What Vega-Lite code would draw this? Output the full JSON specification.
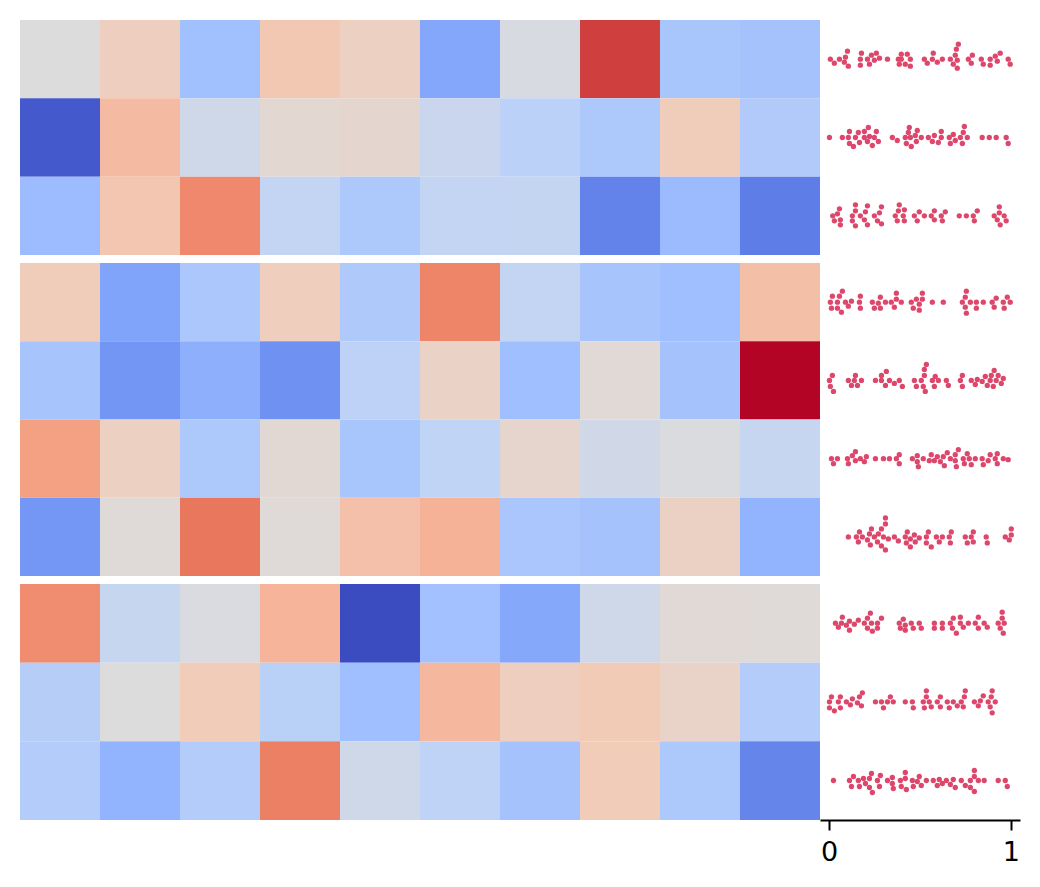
{"$schema":"https://vega.github.io/schema/vega-lite/v6.json","padding":{"left":20,"top":20,"right":20,"bottom":20},"background":"white","config":{"view":{"stroke":null}},
"datasets":{"cells":[
{"row":0,"col":0,"v":0.5},{"row":0,"col":1,"v":0.58},{"row":0,"col":2,"v":0.31},{"row":0,"col":3,"v":0.61},{"row":0,"col":4,"v":0.57},{"row":0,"col":5,"v":0.225},{"row":0,"col":6,"v":0.48},{"row":0,"col":7,"v":0.93},{"row":0,"col":8,"v":0.33},{"row":0,"col":9,"v":0.32},
{"row":1,"col":0,"v":0.03},{"row":1,"col":1,"v":0.65},{"row":1,"col":2,"v":0.45},{"row":1,"col":3,"v":0.53},{"row":1,"col":4,"v":0.535},{"row":1,"col":5,"v":0.43},{"row":1,"col":6,"v":0.385},{"row":1,"col":7,"v":0.345},{"row":1,"col":8,"v":0.59},{"row":1,"col":9,"v":0.355},
{"row":2,"col":0,"v":0.295},{"row":2,"col":1,"v":0.615},{"row":2,"col":2,"v":0.79},{"row":2,"col":3,"v":0.41},{"row":2,"col":4,"v":0.345},{"row":2,"col":5,"v":0.41},{"row":2,"col":6,"v":0.415},{"row":2,"col":7,"v":0.13},{"row":2,"col":8,"v":0.29},{"row":2,"col":9,"v":0.115},
{"row":3,"col":0,"v":0.59},{"row":3,"col":1,"v":0.215},{"row":3,"col":2,"v":0.34},{"row":3,"col":3,"v":0.585},{"row":3,"col":4,"v":0.35},{"row":3,"col":5,"v":0.8},{"row":3,"col":6,"v":0.41},{"row":3,"col":7,"v":0.325},{"row":3,"col":8,"v":0.305},{"row":3,"col":9,"v":0.64},
{"row":4,"col":0,"v":0.325},{"row":4,"col":1,"v":0.175},{"row":4,"col":2,"v":0.255},{"row":4,"col":3,"v":0.165},{"row":4,"col":4,"v":0.39},{"row":4,"col":5,"v":0.56},{"row":4,"col":6,"v":0.305},{"row":4,"col":7,"v":0.52},{"row":4,"col":8,"v":0.32},{"row":4,"col":9,"v":1},
{"row":5,"col":0,"v":0.73},{"row":5,"col":1,"v":0.57},{"row":5,"col":2,"v":0.345},{"row":5,"col":3,"v":0.525},{"row":5,"col":4,"v":0.33},{"row":5,"col":5,"v":0.4},{"row":5,"col":6,"v":0.54},{"row":5,"col":7,"v":0.455},{"row":5,"col":8,"v":0.49},{"row":5,"col":9,"v":0.42},
{"row":6,"col":0,"v":0.18},{"row":6,"col":1,"v":0.51},{"row":6,"col":2,"v":0.83},{"row":6,"col":3,"v":0.51},{"row":6,"col":4,"v":0.635},{"row":6,"col":5,"v":0.68},{"row":6,"col":6,"v":0.335},{"row":6,"col":7,"v":0.32},{"row":6,"col":8,"v":0.565},{"row":6,"col":9,"v":0.265},
{"row":7,"col":0,"v":0.78},{"row":7,"col":1,"v":0.425},{"row":7,"col":2,"v":0.485},{"row":7,"col":3,"v":0.67},{"row":7,"col":4,"v":0},{"row":7,"col":5,"v":0.315},{"row":7,"col":6,"v":0.23},{"row":7,"col":7,"v":0.45},{"row":7,"col":8,"v":0.515},{"row":7,"col":9,"v":0.51},
{"row":8,"col":0,"v":0.37},{"row":8,"col":1,"v":0.495},{"row":8,"col":2,"v":0.595},{"row":8,"col":3,"v":0.38},{"row":8,"col":4,"v":0.305},{"row":8,"col":5,"v":0.66},{"row":8,"col":6,"v":0.58},{"row":8,"col":7,"v":0.6},{"row":8,"col":8,"v":0.555},{"row":8,"col":9,"v":0.365},
{"row":9,"col":0,"v":0.365},{"row":9,"col":1,"v":0.265},{"row":9,"col":2,"v":0.365},{"row":9,"col":3,"v":0.81},{"row":9,"col":4,"v":0.45},{"row":9,"col":5,"v":0.395},{"row":9,"col":6,"v":0.32},{"row":9,"col":7,"v":0.595},{"row":9,"col":8,"v":0.345},{"row":9,"col":9,"v":0.135}
],
"swarm":[
{"row":0,"x":0.007,"o":0},{"row":0,"x":0.029,"o":4},{"row":0,"x":0.057,"o":0},{"row":0,"x":0.084,"o":3},{"row":0,"x":0.09,"o":-2},{"row":0,"x":0.101,"o":-8},{"row":0,"x":0.106,"o":7},{"row":0,"x":0.172,"o":0},{"row":0,"x":0.178,"o":-6},{"row":0,"x":0.172,"o":6},{"row":0,"x":0.211,"o":0},{"row":0,"x":0.222,"o":5},{"row":0,"x":0.233,"o":-4},{"row":0,"x":0.249,"o":1},{"row":0,"x":0.26,"o":-6},{"row":0,"x":0.277,"o":-1},{"row":0,"x":0.321,"o":0},{"row":0,"x":0.381,"o":0},{"row":0,"x":0.386,"o":5},{"row":0,"x":0.397,"o":-5},{"row":0,"x":0.397,"o":0},{"row":0,"x":0.419,"o":5},{"row":0,"x":0.43,"o":-5},{"row":0,"x":0.447,"o":0},{"row":0,"x":0.447,"o":7},{"row":0,"x":0.524,"o":0},{"row":0,"x":0.54,"o":4},{"row":0,"x":0.568,"o":0},{"row":0,"x":0.573,"o":-6},{"row":0,"x":0.595,"o":3},{"row":0,"x":0.623,"o":0},{"row":0,"x":0.667,"o":0},{"row":0,"x":0.683,"o":5},{"row":0,"x":0.694,"o":-4},{"row":0,"x":0.7,"o":-10},{"row":0,"x":0.705,"o":1},{"row":0,"x":0.711,"o":-15},{"row":0,"x":0.705,"o":9},{"row":0,"x":0.766,"o":0},{"row":0,"x":0.782,"o":4},{"row":0,"x":0.788,"o":-4},{"row":0,"x":0.837,"o":0},{"row":0,"x":0.848,"o":5},{"row":0,"x":0.886,"o":0},{"row":0,"x":0.886,"o":6},{"row":0,"x":0.914,"o":-3},{"row":0,"x":0.925,"o":2},{"row":0,"x":0.941,"o":-6},{"row":0,"x":0.985,"o":0},{"row":0,"x":0.996,"o":5},
{"row":1,"x":0.002,"o":0},{"row":1,"x":0.073,"o":0},{"row":1,"x":0.106,"o":0},{"row":1,"x":0.112,"o":-6},{"row":1,"x":0.112,"o":6},{"row":1,"x":0.134,"o":9},{"row":1,"x":0.145,"o":0},{"row":1,"x":0.161,"o":-5},{"row":1,"x":0.167,"o":5},{"row":1,"x":0.194,"o":-6},{"row":1,"x":0.194,"o":0},{"row":1,"x":0.211,"o":4},{"row":1,"x":0.216,"o":-10},{"row":1,"x":0.222,"o":-1},{"row":1,"x":0.238,"o":8},{"row":1,"x":0.249,"o":0},{"row":1,"x":0.26,"o":-6},{"row":1,"x":0.271,"o":4},{"row":1,"x":0.348,"o":0},{"row":1,"x":0.375,"o":3},{"row":1,"x":0.419,"o":0},{"row":1,"x":0.425,"o":6},{"row":1,"x":0.436,"o":-5},{"row":1,"x":0.441,"o":-10},{"row":1,"x":0.447,"o":0},{"row":1,"x":0.452,"o":9},{"row":1,"x":0.474,"o":-2},{"row":1,"x":0.48,"o":4},{"row":1,"x":0.485,"o":-7},{"row":1,"x":0.507,"o":0},{"row":1,"x":0.546,"o":0},{"row":1,"x":0.568,"o":4},{"row":1,"x":0.579,"o":-2},{"row":1,"x":0.601,"o":5},{"row":1,"x":0.617,"o":-6},{"row":1,"x":0.617,"o":0},{"row":1,"x":0.661,"o":0},{"row":1,"x":0.667,"o":6},{"row":1,"x":0.683,"o":-3},{"row":1,"x":0.694,"o":3},{"row":1,"x":0.722,"o":0},{"row":1,"x":0.733,"o":6},{"row":1,"x":0.738,"o":-5},{"row":1,"x":0.744,"o":-11},{"row":1,"x":0.76,"o":0},{"row":1,"x":0.842,"o":0},{"row":1,"x":0.881,"o":0},{"row":1,"x":0.919,"o":0},{"row":1,"x":0.974,"o":0},{"row":1,"x":0.985,"o":6},
{"row":2,"x":0.02,"o":0},{"row":2,"x":0.029,"o":5},{"row":2,"x":0.046,"o":-2},{"row":2,"x":0.057,"o":-7},{"row":2,"x":0.062,"o":4},{"row":2,"x":0.062,"o":9},{"row":2,"x":0.128,"o":0},{"row":2,"x":0.128,"o":5},{"row":2,"x":0.145,"o":-5},{"row":2,"x":0.145,"o":-11},{"row":2,"x":0.145,"o":10},{"row":2,"x":0.172,"o":0},{"row":2,"x":0.194,"o":4},{"row":2,"x":0.2,"o":-4},{"row":2,"x":0.211,"o":-10},{"row":2,"x":0.211,"o":9},{"row":2,"x":0.249,"o":0},{"row":2,"x":0.266,"o":5},{"row":2,"x":0.277,"o":-3},{"row":2,"x":0.288,"o":-9},{"row":2,"x":0.288,"o":8},{"row":2,"x":0.364,"o":0},{"row":2,"x":0.375,"o":5},{"row":2,"x":0.381,"o":-5},{"row":2,"x":0.386,"o":-11},{"row":2,"x":0.408,"o":0},{"row":2,"x":0.414,"o":-6},{"row":2,"x":0.414,"o":5},{"row":2,"x":0.469,"o":0},{"row":2,"x":0.485,"o":5},{"row":2,"x":0.496,"o":-4},{"row":2,"x":0.524,"o":0},{"row":2,"x":0.562,"o":0},{"row":2,"x":0.579,"o":4},{"row":2,"x":0.579,"o":-5},{"row":2,"x":0.617,"o":0},{"row":2,"x":0.623,"o":5},{"row":2,"x":0.639,"o":-4},{"row":2,"x":0.716,"o":0},{"row":2,"x":0.755,"o":0},{"row":2,"x":0.793,"o":0},{"row":2,"x":0.799,"o":5},{"row":2,"x":0.815,"o":-5},{"row":2,"x":0.908,"o":0},{"row":2,"x":0.925,"o":4},{"row":2,"x":0.936,"o":-3},{"row":2,"x":0.936,"o":-9},{"row":2,"x":0.941,"o":9},{"row":2,"x":0.963,"o":0},{"row":2,"x":0.974,"o":5},
{"row":3,"x":0.007,"o":0},{"row":3,"x":0.013,"o":6},{"row":3,"x":0.018,"o":-6},{"row":3,"x":0.046,"o":0},{"row":3,"x":0.046,"o":6},{"row":3,"x":0.057,"o":-6},{"row":3,"x":0.068,"o":10},{"row":3,"x":0.073,"o":-11},{"row":3,"x":0.09,"o":0},{"row":3,"x":0.106,"o":4},{"row":3,"x":0.123,"o":-1},{"row":3,"x":0.167,"o":0},{"row":3,"x":0.172,"o":-6},{"row":3,"x":0.172,"o":6},{"row":3,"x":0.238,"o":0},{"row":3,"x":0.249,"o":6},{"row":3,"x":0.271,"o":1},{"row":3,"x":0.282,"o":-5},{"row":3,"x":0.282,"o":6},{"row":3,"x":0.31,"o":0},{"row":3,"x":0.342,"o":0},{"row":3,"x":0.359,"o":5},{"row":3,"x":0.37,"o":-3},{"row":3,"x":0.37,"o":-9},{"row":3,"x":0.397,"o":0},{"row":3,"x":0.452,"o":0},{"row":3,"x":0.463,"o":6},{"row":3,"x":0.48,"o":-3},{"row":3,"x":0.496,"o":2},{"row":3,"x":0.496,"o":8},{"row":3,"x":0.513,"o":-9},{"row":3,"x":0.513,"o":-3},{"row":3,"x":0.568,"o":0},{"row":3,"x":0.628,"o":0},{"row":3,"x":0.733,"o":0},{"row":3,"x":0.749,"o":-5},{"row":3,"x":0.749,"o":5},{"row":3,"x":0.755,"o":-11},{"row":3,"x":0.755,"o":11},{"row":3,"x":0.777,"o":0},{"row":3,"x":0.81,"o":0},{"row":3,"x":0.81,"o":6},{"row":3,"x":0.848,"o":0},{"row":3,"x":0.897,"o":0},{"row":3,"x":0.908,"o":5},{"row":3,"x":0.919,"o":-4},{"row":3,"x":0.958,"o":0},{"row":3,"x":0.963,"o":6},{"row":3,"x":0.98,"o":-5},{"row":3,"x":0.996,"o":0},
{"row":4,"x":0.002,"o":0},{"row":4,"x":0.007,"o":6},{"row":4,"x":0.018,"o":-5},{"row":4,"x":0.024,"o":11},{"row":4,"x":0.106,"o":0},{"row":4,"x":0.123,"o":5},{"row":4,"x":0.139,"o":0},{"row":4,"x":0.145,"o":-5},{"row":4,"x":0.156,"o":5},{"row":4,"x":0.178,"o":0},{"row":4,"x":0.255,"o":0},{"row":4,"x":0.288,"o":-5},{"row":4,"x":0.288,"o":0},{"row":4,"x":0.31,"o":5},{"row":4,"x":0.315,"o":-9},{"row":4,"x":0.332,"o":0},{"row":4,"x":0.359,"o":3},{"row":4,"x":0.386,"o":0},{"row":4,"x":0.403,"o":6},{"row":4,"x":0.469,"o":0},{"row":4,"x":0.48,"o":6},{"row":4,"x":0.507,"o":0},{"row":4,"x":0.518,"o":6},{"row":4,"x":0.524,"o":-5},{"row":4,"x":0.524,"o":-11},{"row":4,"x":0.529,"o":11},{"row":4,"x":0.535,"o":-16},{"row":4,"x":0.568,"o":0},{"row":4,"x":0.579,"o":6},{"row":4,"x":0.584,"o":-4},{"row":4,"x":0.601,"o":0},{"row":4,"x":0.645,"o":0},{"row":4,"x":0.656,"o":5},{"row":4,"x":0.722,"o":0},{"row":4,"x":0.733,"o":-5},{"row":4,"x":0.733,"o":6},{"row":4,"x":0.782,"o":0},{"row":4,"x":0.804,"o":4},{"row":4,"x":0.815,"o":-1},{"row":4,"x":0.842,"o":1},{"row":4,"x":0.859,"o":-4},{"row":4,"x":0.87,"o":5},{"row":4,"x":0.886,"o":0},{"row":4,"x":0.892,"o":-5},{"row":4,"x":0.903,"o":6},{"row":4,"x":0.908,"o":-10},{"row":4,"x":0.919,"o":0},{"row":4,"x":0.93,"o":-5},{"row":4,"x":0.947,"o":3},{"row":4,"x":0.958,"o":-2},
{"row":5,"x":0.013,"o":0},{"row":5,"x":0.024,"o":5},{"row":5,"x":0.046,"o":0},{"row":5,"x":0.101,"o":0},{"row":5,"x":0.106,"o":5},{"row":5,"x":0.128,"o":-3},{"row":5,"x":0.145,"o":-7},{"row":5,"x":0.145,"o":2},{"row":5,"x":0.172,"o":0},{"row":5,"x":0.194,"o":3},{"row":5,"x":0.205,"o":-2},{"row":5,"x":0.255,"o":0},{"row":5,"x":0.299,"o":0},{"row":5,"x":0.332,"o":0},{"row":5,"x":0.37,"o":0},{"row":5,"x":0.386,"o":-4},{"row":5,"x":0.386,"o":5},{"row":5,"x":0.458,"o":0},{"row":5,"x":0.485,"o":-3},{"row":5,"x":0.485,"o":3},{"row":5,"x":0.491,"o":8},{"row":5,"x":0.518,"o":0},{"row":5,"x":0.551,"o":2},{"row":5,"x":0.562,"o":-4},{"row":5,"x":0.579,"o":2},{"row":5,"x":0.595,"o":-2},{"row":5,"x":0.612,"o":3},{"row":5,"x":0.628,"o":-2},{"row":5,"x":0.634,"o":7},{"row":5,"x":0.65,"o":-6},{"row":5,"x":0.667,"o":0},{"row":5,"x":0.694,"o":-4},{"row":5,"x":0.694,"o":2},{"row":5,"x":0.7,"o":8},{"row":5,"x":0.711,"o":-9},{"row":5,"x":0.738,"o":0},{"row":5,"x":0.744,"o":5},{"row":5,"x":0.76,"o":-5},{"row":5,"x":0.771,"o":0},{"row":5,"x":0.782,"o":6},{"row":5,"x":0.804,"o":0},{"row":5,"x":0.842,"o":0},{"row":5,"x":0.848,"o":6},{"row":5,"x":0.875,"o":2},{"row":5,"x":0.886,"o":-4},{"row":5,"x":0.914,"o":0},{"row":5,"x":0.925,"o":-5},{"row":5,"x":0.925,"o":5},{"row":5,"x":0.958,"o":0},{"row":5,"x":0.985,"o":1},
{"row":6,"x":0.106,"o":0},{"row":6,"x":0.15,"o":0},{"row":6,"x":0.161,"o":5},{"row":6,"x":0.167,"o":-5},{"row":6,"x":0.183,"o":0},{"row":6,"x":0.211,"o":3},{"row":6,"x":0.222,"o":-3},{"row":6,"x":0.227,"o":8},{"row":6,"x":0.233,"o":-8},{"row":6,"x":0.249,"o":0},{"row":6,"x":0.266,"o":5},{"row":6,"x":0.271,"o":-3},{"row":6,"x":0.288,"o":9},{"row":6,"x":0.288,"o":-8},{"row":6,"x":0.299,"o":0},{"row":6,"x":0.31,"o":13},{"row":6,"x":0.31,"o":-13},{"row":6,"x":0.31,"o":-19},{"row":6,"x":0.326,"o":2},{"row":6,"x":0.359,"o":0},{"row":6,"x":0.381,"o":4},{"row":6,"x":0.419,"o":0},{"row":6,"x":0.425,"o":6},{"row":6,"x":0.43,"o":-5},{"row":6,"x":0.447,"o":2},{"row":6,"x":0.447,"o":10},{"row":6,"x":0.469,"o":-2},{"row":6,"x":0.474,"o":5},{"row":6,"x":0.496,"o":1},{"row":6,"x":0.535,"o":0},{"row":6,"x":0.535,"o":6},{"row":6,"x":0.546,"o":-5},{"row":6,"x":0.562,"o":10},{"row":6,"x":0.59,"o":0},{"row":6,"x":0.606,"o":5},{"row":6,"x":0.623,"o":0},{"row":6,"x":0.661,"o":0},{"row":6,"x":0.667,"o":6},{"row":6,"x":0.672,"o":-5},{"row":6,"x":0.749,"o":0},{"row":6,"x":0.76,"o":6},{"row":6,"x":0.782,"o":0},{"row":6,"x":0.793,"o":-5},{"row":6,"x":0.793,"o":5},{"row":6,"x":0.864,"o":0},{"row":6,"x":0.87,"o":6},{"row":6,"x":0.969,"o":0},{"row":6,"x":0.991,"o":3},{"row":6,"x":1.002,"o":-2},{"row":6,"x":1.002,"o":-8},
{"row":7,"x":0.035,"o":0},{"row":7,"x":0.051,"o":4},{"row":7,"x":0.068,"o":0},{"row":7,"x":0.073,"o":-6},{"row":7,"x":0.095,"o":2},{"row":7,"x":0.112,"o":-2},{"row":7,"x":0.112,"o":7},{"row":7,"x":0.139,"o":1},{"row":7,"x":0.161,"o":-3},{"row":7,"x":0.194,"o":0},{"row":7,"x":0.211,"o":-5},{"row":7,"x":0.211,"o":5},{"row":7,"x":0.227,"o":-10},{"row":7,"x":0.233,"o":0},{"row":7,"x":0.238,"o":8},{"row":7,"x":0.266,"o":0},{"row":7,"x":0.266,"o":5},{"row":7,"x":0.288,"o":-5},{"row":7,"x":0.386,"o":0},{"row":7,"x":0.392,"o":5},{"row":7,"x":0.408,"o":-4},{"row":7,"x":0.419,"o":2},{"row":7,"x":0.419,"o":7},{"row":7,"x":0.452,"o":0},{"row":7,"x":0.463,"o":5},{"row":7,"x":0.496,"o":0},{"row":7,"x":0.507,"o":5},{"row":7,"x":0.579,"o":0},{"row":7,"x":0.579,"o":5},{"row":7,"x":0.623,"o":0},{"row":7,"x":0.623,"o":5},{"row":7,"x":0.667,"o":0},{"row":7,"x":0.678,"o":5},{"row":7,"x":0.683,"o":-5},{"row":7,"x":0.7,"o":10},{"row":7,"x":0.722,"o":-6},{"row":7,"x":0.722,"o":0},{"row":7,"x":0.738,"o":4},{"row":7,"x":0.766,"o":0},{"row":7,"x":0.804,"o":0},{"row":7,"x":0.821,"o":-6},{"row":7,"x":0.821,"o":5},{"row":7,"x":0.853,"o":0},{"row":7,"x":0.87,"o":4},{"row":7,"x":0.93,"o":0},{"row":7,"x":0.941,"o":5},{"row":7,"x":0.952,"o":-11},{"row":7,"x":0.952,"o":-5},{"row":7,"x":0.958,"o":10},{"row":7,"x":0.963,"o":0},
{"row":8,"x":0.002,"o":0},{"row":8,"x":0.002,"o":6},{"row":8,"x":0.013,"o":-5},{"row":8,"x":0.029,"o":9},{"row":8,"x":0.051,"o":0},{"row":8,"x":0.062,"o":-5},{"row":8,"x":0.062,"o":6},{"row":8,"x":0.095,"o":0},{"row":8,"x":0.117,"o":3},{"row":8,"x":0.128,"o":-3},{"row":8,"x":0.156,"o":1},{"row":8,"x":0.167,"o":-5},{"row":8,"x":0.178,"o":4},{"row":8,"x":0.183,"o":-9},{"row":8,"x":0.255,"o":0},{"row":8,"x":0.288,"o":0},{"row":8,"x":0.299,"o":6},{"row":8,"x":0.321,"o":0},{"row":8,"x":0.337,"o":-5},{"row":8,"x":0.353,"o":0},{"row":8,"x":0.419,"o":0},{"row":8,"x":0.458,"o":0},{"row":8,"x":0.463,"o":6},{"row":8,"x":0.518,"o":0},{"row":8,"x":0.524,"o":6},{"row":8,"x":0.535,"o":-5},{"row":8,"x":0.535,"o":-11},{"row":8,"x":0.551,"o":0},{"row":8,"x":0.562,"o":5},{"row":8,"x":0.595,"o":0},{"row":8,"x":0.612,"o":-5},{"row":8,"x":0.612,"o":5},{"row":8,"x":0.65,"o":0},{"row":8,"x":0.661,"o":6},{"row":8,"x":0.683,"o":0},{"row":8,"x":0.705,"o":4},{"row":8,"x":0.727,"o":0},{"row":8,"x":0.738,"o":5},{"row":8,"x":0.744,"o":-5},{"row":8,"x":0.749,"o":-11},{"row":8,"x":0.799,"o":0},{"row":8,"x":0.821,"o":4},{"row":8,"x":0.832,"o":-1},{"row":8,"x":0.848,"o":-6},{"row":8,"x":0.875,"o":0},{"row":8,"x":0.886,"o":5},{"row":8,"x":0.892,"o":-5},{"row":8,"x":0.897,"o":-11},{"row":8,"x":0.897,"o":11},{"row":8,"x":0.914,"o":0},
{"row":9,"x":0.024,"o":0},{"row":9,"x":0.112,"o":0},{"row":9,"x":0.123,"o":6},{"row":9,"x":0.134,"o":-4},{"row":9,"x":0.161,"o":0},{"row":9,"x":0.167,"o":6},{"row":9,"x":0.189,"o":-2},{"row":9,"x":0.2,"o":3},{"row":9,"x":0.222,"o":-2},{"row":9,"x":0.222,"o":7},{"row":9,"x":0.233,"o":-7},{"row":9,"x":0.238,"o":12},{"row":9,"x":0.266,"o":0},{"row":9,"x":0.277,"o":6},{"row":9,"x":0.282,"o":-5},{"row":9,"x":0.321,"o":0},{"row":9,"x":0.348,"o":-3},{"row":9,"x":0.348,"o":3},{"row":9,"x":0.353,"o":8},{"row":9,"x":0.392,"o":0},{"row":9,"x":0.397,"o":6},{"row":9,"x":0.419,"o":-2},{"row":9,"x":0.419,"o":-8},{"row":9,"x":0.425,"o":9},{"row":9,"x":0.458,"o":0},{"row":9,"x":0.463,"o":6},{"row":9,"x":0.485,"o":1},{"row":9,"x":0.496,"o":-4},{"row":9,"x":0.507,"o":5},{"row":9,"x":0.535,"o":0},{"row":9,"x":0.573,"o":0},{"row":9,"x":0.595,"o":5},{"row":9,"x":0.606,"o":-1},{"row":9,"x":0.623,"o":3},{"row":9,"x":0.645,"o":0},{"row":9,"x":0.667,"o":4},{"row":9,"x":0.683,"o":-1},{"row":9,"x":0.694,"o":7},{"row":9,"x":0.727,"o":0},{"row":9,"x":0.749,"o":5},{"row":9,"x":0.777,"o":0},{"row":9,"x":0.777,"o":7},{"row":9,"x":0.799,"o":-4},{"row":9,"x":0.799,"o":-10},{"row":9,"x":0.799,"o":11},{"row":9,"x":0.821,"o":0},{"row":9,"x":0.853,"o":0},{"row":9,"x":0.93,"o":0},{"row":9,"x":0.969,"o":0},{"row":9,"x":0.98,"o":6}
]},
"columns":2,"align":"each","spacing":{"row":8,"column":0},
"concat":[
{"width":800,"height":235,"data":{"name":"cells"},"transform":[{"filter":"datum.row<=2"}],"mark":{"type":"rect","stroke":null,"height":78.33},"encoding":{"x":{"field":"col","type":"ordinal","axis":null,"scale":{"paddingInner":0,"paddingOuter":0}},"y":{"field":"row","type":"ordinal","axis":null,"scale":{"paddingInner":0,"paddingOuter":0}},"color":{"field":"v","type":"quantitative","legend":null,"scale":{"interpolate":"rgb","domain":[0,0.1,0.2,0.3,0.4,0.5,0.6,0.7,0.8,0.9,1],"range":["#3b4cc0","#5977e3","#7b9ff9","#9ebeff","#c0d4f5","#dddcdc","#f2cbb7","#f7ac8e","#ee8468","#d95847","#b40426"]}}}},
{"width":200,"height":235,"data":{"name":"swarm"},"transform":[{"filter":"datum.row<=2"}],"mark":{"type":"circle","size":28,"opacity":1,"color":"#dd476c"},"encoding":{"x":{"field":"x","type":"quantitative","axis":null,"scale":{"domain":[-0.05,1.05],"nice":false,"zero":false}},"y":{"field":"row","type":"ordinal","axis":null,"scale":{"type":"band","paddingInner":0,"paddingOuter":0}},"yOffset":{"field":"o","type":"quantitative","scale":{"domain":[-39,39],"range":[0.17,78.17],"nice":false,"zero":false}}}},
{"width":800,"height":313,"data":{"name":"cells"},"transform":[{"filter":"datum.row>=3 && datum.row<=6"}],"mark":{"type":"rect","stroke":null,"height":78.25},"encoding":{"x":{"field":"col","type":"ordinal","axis":null,"scale":{"paddingInner":0,"paddingOuter":0}},"y":{"field":"row","type":"ordinal","axis":null,"scale":{"paddingInner":0,"paddingOuter":0}},"color":{"field":"v","type":"quantitative","legend":null,"scale":{"interpolate":"rgb","domain":[0,0.1,0.2,0.3,0.4,0.5,0.6,0.7,0.8,0.9,1],"range":["#3b4cc0","#5977e3","#7b9ff9","#9ebeff","#c0d4f5","#dddcdc","#f2cbb7","#f7ac8e","#ee8468","#d95847","#b40426"]}}}},
{"width":200,"height":313,"data":{"name":"swarm"},"transform":[{"filter":"datum.row>=3 && datum.row<=6"}],"mark":{"type":"circle","size":28,"opacity":1,"color":"#dd476c"},"encoding":{"x":{"field":"x","type":"quantitative","axis":null,"scale":{"domain":[-0.05,1.05],"nice":false,"zero":false}},"y":{"field":"row","type":"ordinal","axis":null,"scale":{"type":"band","paddingInner":0,"paddingOuter":0}},"yOffset":{"field":"o","type":"quantitative","scale":{"domain":[-39,39],"range":[0.125,78.125],"nice":false,"zero":false}}}},
{"width":800,"height":236,"data":{"name":"cells"},"transform":[{"filter":"datum.row>=7"}],"mark":{"type":"rect","stroke":null,"height":78.66},"encoding":{"x":{"field":"col","type":"ordinal","axis":null,"scale":{"paddingInner":0,"paddingOuter":0}},"y":{"field":"row","type":"ordinal","axis":null,"scale":{"paddingInner":0,"paddingOuter":0}},"color":{"field":"v","type":"quantitative","legend":null,"scale":{"interpolate":"rgb","domain":[0,0.1,0.2,0.3,0.4,0.5,0.6,0.7,0.8,0.9,1],"range":["#3b4cc0","#5977e3","#7b9ff9","#9ebeff","#c0d4f5","#dddcdc","#f2cbb7","#f7ac8e","#ee8468","#d95847","#b40426"]}}}},
{"width":200,"height":236,"data":{"name":"swarm"},"transform":[{"filter":"datum.row>=7"}],"mark":{"type":"circle","size":28,"opacity":1,"color":"#dd476c"},"encoding":{"x":{"field":"x","type":"quantitative","title":null,"scale":{"domain":[-0.05,1.05],"nice":false,"zero":false},"axis":{"values":[0,1],"format":"d","grid":false,"domainColor":"black","domainWidth":2,"tickColor":"black","tickWidth":2,"tickSize":10,"labelColor":"black","labelFont":"DejaVu Sans","labelFontSize":27,"labelPadding":9,"labelFlush":false,"labelOverlap":false}},"y":{"field":"row","type":"ordinal","axis":null,"scale":{"type":"band","paddingInner":0,"paddingOuter":0}},"yOffset":{"field":"o","type":"quantitative","scale":{"domain":[-39,39],"range":[0.33,78.33],"nice":false,"zero":false}}}}
]}
